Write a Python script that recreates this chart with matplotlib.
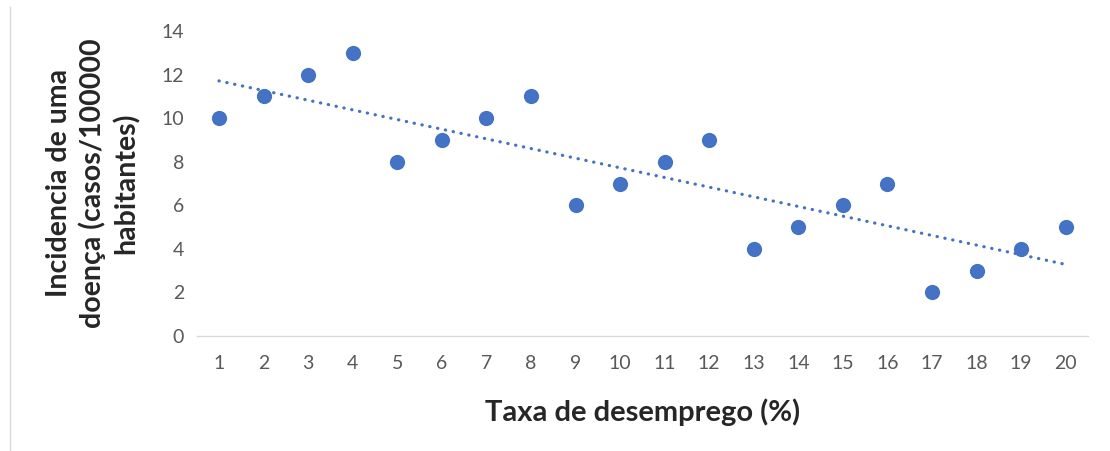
import matplotlib
matplotlib.use('Agg')
import matplotlib.pyplot as plt
from matplotlib.lines import Line2D
import numpy as np

# taxa de desemprego (%) vs incidência
taxa = list(range(1, 21))
incidencia = [10, 11, 12, 13, 8, 9, 10, 11, 6, 7,
              8, 9, 4, 5, 6, 7, 2, 3, 4, 5]
yticks = [0, 2, 4, 6, 8, 10, 12, 14]

blue = '#4472C4'
plt.rcParams['font.family'] = ['Lato', 'DejaVu Sans']

fig = plt.figure(figsize=(11.1, 4.51), dpi=100)
ax = fig.add_axes([0.1772, 0.255, 0.8030, 0.676])

ax.scatter(taxa, incidencia, s=120, color=blue, zorder=3, linewidths=0)

# linha de tendência linear
coef = np.polyfit(taxa, incidencia, 1)
xt = np.array([taxa[0], taxa[-1]])
ax.plot(xt, np.polyval(coef, xt), color=blue, lw=2.3,
        linestyle=(0, (0.1, 2.4)), dash_capstyle='round', zorder=2)

ax.set_xlim(0.5, 20.5)
ax.set_ylim(0, 14)
ax.set_xticks(taxa)
ax.set_yticks(yticks)
for s in ['top', 'right', 'left']:
    ax.spines[s].set_visible(False)
ax.spines['bottom'].set_color('#d9d9d9')
ax.spines['bottom'].set_linewidth(1.0)
ax.tick_params(axis='x', length=0, pad=14, labelsize=14, colors='#595959')
ax.tick_params(axis='y', length=0, pad=9, labelsize=14, colors='#595959')

fig.text(0.579, 1 - 412 / 451, 'Taxa de desemprego (%)', ha='center', va='center',
         fontsize=21, fontweight='bold', color='#262626')
fig.text(93 / 1110, 1 - 183 / 451,
         'Incidencia de uma\ndoença (casos/100000\nhabitantes)',
         rotation=90, ha='center', va='center', multialignment='center',
         fontsize=20.5, fontweight='bold', color='#262626', linespacing=1.3)

# borda fina à esquerda
fig.add_artist(Line2D([9.5 / 1110, 9.5 / 1110], [0, 1 - 7 / 451],
                      transform=fig.transFigure, color='#d9d9d9', lw=1.0))

fig.savefig('out.png', dpi=100, facecolor='white')
